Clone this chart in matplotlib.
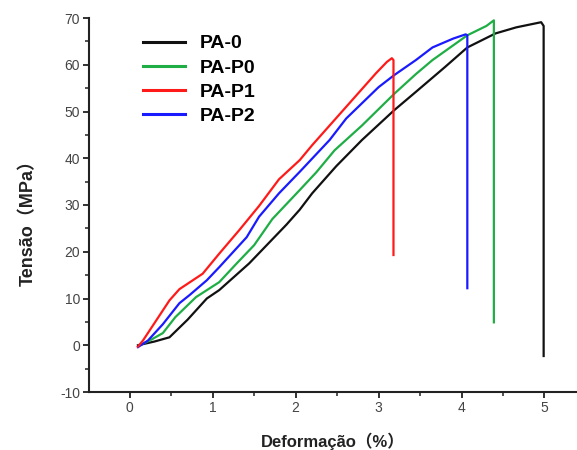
import matplotlib
matplotlib.use('Agg')
import matplotlib.pyplot as plt
from matplotlib.ticker import MultipleLocator

# stress-strain curves
pa0_x = [0.10, 0.30, 0.48, 0.70, 0.93, 1.08, 1.44, 1.89, 2.05, 2.20, 2.49, 2.80,
         3.19, 3.45, 3.80, 4.07, 4.41, 4.66, 4.96, 4.99, 4.99]
pa0_y = [0.0, 0.8, 1.7, 5.5, 10.0, 11.8, 17.5, 25.8, 29.0, 32.5, 38.3, 43.9,
         50.3, 54.2, 59.5, 63.7, 66.7, 68.0, 69.1, 68.3, -2.3]

pap0_x = [0.12, 0.24, 0.40, 0.55, 0.80, 1.08, 1.29, 1.50, 1.72, 2.05, 2.25, 2.47,
          2.80, 3.19, 3.45, 3.65, 4.07, 4.30, 4.39, 4.39]
pap0_y = [0.0, 1.0, 2.6, 6.0, 10.3, 13.5, 17.5, 21.4, 27.0, 33.2, 37.0, 41.7,
          47.0, 53.8, 58.0, 61.0, 66.3, 68.3, 69.5, 4.9]

pap1_x = [0.10, 0.16, 0.32, 0.48, 0.60, 0.88, 1.08, 1.32, 1.56, 1.80, 2.05, 2.20,
          2.61, 2.97, 3.10, 3.16, 3.18, 3.18]
pap1_y = [-0.3, 1.0, 5.3, 9.6, 12.0, 15.3, 19.6, 24.6, 29.8, 35.5, 39.6, 42.8,
          51.0, 58.2, 60.6, 61.4, 61.0, 19.3]

pap2_x = [0.10, 0.22, 0.40, 0.60, 0.72, 0.93, 1.08, 1.41, 1.56, 1.80, 2.05, 2.41,
          2.61, 3.00, 3.19, 3.45, 3.65, 3.90, 4.05, 4.07, 4.07]
pap2_y = [-0.4, 1.0, 4.5, 9.0, 10.7, 13.9, 16.7, 23.1, 27.5, 32.5, 37.1, 43.9,
          48.5, 55.2, 57.8, 61.0, 63.7, 65.6, 66.5, 66.3, 12.2]

labels = ['PA-0', 'PA-P0', 'PA-P1', 'PA-P2']
colours = ['#111111', '#1fae45', '#ff1a1a', '#1a1aff']

plt.rcParams['font.family'] = ['Liberation Sans', 'Noto Sans CJK SC', 'DejaVu Sans']
plt.rcParams['axes.unicode_minus'] = False

fig = plt.figure(figsize=(5.77, 4.5), dpi=100)
ax = fig.add_axes([89 / 577, 58 / 450, 487 / 577, 374 / 450])

series = [(pa0_x, pa0_y), (pap0_x, pap0_y), (pap1_x, pap1_y), (pap2_x, pap2_y)]
zorders = [2, 3, 5, 4]
for (xs, ys), lab, col, z in zip(series, labels, colours, zorders):
    ax.plot(xs, ys, color=col, lw=1.6, label=lab, zorder=z)

ax.set_xlim(-0.49, 5.38)
ax.set_ylim(-10, 70)
ax.xaxis.set_major_locator(MultipleLocator(1))
ax.xaxis.set_minor_locator(MultipleLocator(0.5))
ax.yaxis.set_major_locator(MultipleLocator(10))
ax.yaxis.set_minor_locator(MultipleLocator(5))

for s in ['top', 'right']:
    ax.spines[s].set_visible(False)
for s in ['left', 'bottom']:
    ax.spines[s].set_linewidth(1.5)
    ax.spines[s].set_color('#222222')

ax.tick_params(which='major', direction='out', length=4.5, width=1.3,
               colors='#222222', labelcolor='#444444', labelsize=10, pad=2)
ax.tick_params(which='minor', direction='out', length=3, width=1.1, colors='#222222')

ax.set_xlabel('Deformação（%）', fontsize=12, fontweight='bold', color='#222222',
              va='center')
ax.set_ylabel('Tensão（MPa）', fontsize=13, fontweight='bold', color='#222222',
              va='center')
ax.xaxis.set_label_coords(0.5, -0.131)
ax.yaxis.set_label_coords(-0.125, 0.465)

leg = ax.legend(loc='upper left', bbox_to_anchor=(133 / 577, 1 - 25 / 450),
                bbox_transform=fig.transFigure, frameon=False, borderpad=0,
                handlelength=2.15, handletextpad=0.8, labelspacing=0.34,
                prop={'size': 14, 'weight': 'bold'})
for line in leg.get_lines():
    line.set_linewidth(2.2)

fig.savefig('out.png', dpi=100)
